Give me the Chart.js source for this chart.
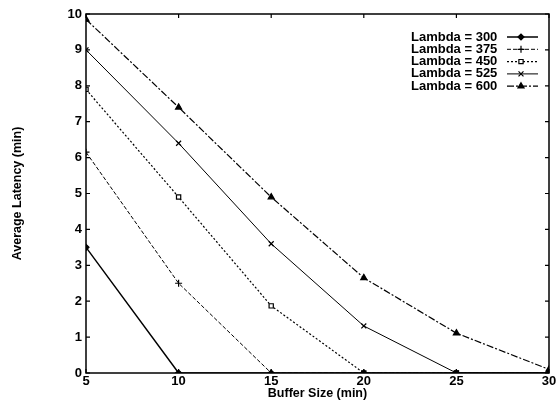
<!DOCTYPE html>
<html>
<head>
<meta charset="utf-8">
<script src="https://cdn.jsdelivr.net/npm/chart.js@4"></script>
<style>
  html,body{margin:0;padding:0;background:#fff}
  #wrap{width:558px;height:411px;position:relative}
</style>
</head>
<body>
<div id="wrap"><canvas id="latencyChart"></canvas></div>
<script>
// values
const bufferSizes = [5, 10, 15, 20, 25, 30];
const lambdaLabels = ['Lambda = 300', 'Lambda = 375', 'Lambda = 450', 'Lambda = 525', 'Lambda = 600'];
const lambda300 = [3.5, 0, 0, 0, 0, 0];
const lambda375 = [6.15, 2.5, 0, 0, 0, 0];
const lambda450 = [7.9, 4.9, 1.87, 0, 0, 0];
const lambda525 = [9.0, 6.4, 3.6, 1.31, 0, 0];
const lambda600 = [9.85, 7.4, 4.9, 2.65, 1.11, 0.1];
const yTicks = [0, 1, 2, 3, 4, 5, 6, 7, 8, 9, 10];

const FONT = '"Liberation Sans", Arial, Helvetica, sans-serif';
const series = [lambda300, lambda375, lambda450, lambda525, lambda600];
const styles = [
  {pointStyle:'rectRot', dash:[], width:1.5, radius:3, fill:'#000'},
  {pointStyle:'cross', dash:[4,2], width:1, radius:3.5, fill:'#000'},
  {pointStyle:'rect', dash:[2,2], width:1.2, radius:3, fill:'#fff'},
  {pointStyle:'crossRot', dash:[], width:1, radius:3.5, fill:'#000'},
  {pointStyle:'triangle', dash:[7,2,2,2], width:1.2, radius:3.5, fill:'#000'}
];

const datasets = series.map((vals,i)=>({
  label: lambdaLabels[i],
  data: bufferSizes.map((x,j)=>({x, y: vals[j]})),
  borderColor:'#000',
  borderWidth: styles[i].width,
  borderDash: styles[i].dash,
  pointStyle: styles[i].pointStyle,
  pointRadius: styles[i].radius,
  pointBackgroundColor: styles[i].fill,
  pointBorderColor:'#000',
  pointBorderWidth:1.2,
  tension:0
}));

// frame with inward tick marks on all four sides
const framePlugin = {
  id:'frame',
  afterDraw(chart){
    const {ctx, chartArea:a, scales:{x, y}} = chart;
    ctx.save();
    ctx.strokeStyle = '#000';
    ctx.lineWidth = 1.5;
    ctx.strokeRect(a.left, a.top, a.right - a.left, a.bottom - a.top);
    ctx.lineWidth = 1.2;
    ctx.beginPath();
    bufferSizes.forEach(v=>{
      const px = x.getPixelForValue(v);
      ctx.moveTo(px, a.bottom); ctx.lineTo(px, a.bottom - 4);
      ctx.moveTo(px, a.top); ctx.lineTo(px, a.top + 4);
    });
    yTicks.forEach(v=>{
      const py = y.getPixelForValue(v);
      ctx.moveTo(a.left, py); ctx.lineTo(a.left + 4, py);
      ctx.moveTo(a.right, py); ctx.lineTo(a.right - 4, py);
    });
    ctx.stroke();
    ctx.restore();
  }
};

// legend: text first, sample line after it
const legendPlugin = {
  id:'sideLegend',
  afterDraw(chart){
    const ctx = chart.ctx;
    ctx.save();
    ctx.font = 'bold 13px ' + FONT;
    ctx.textBaseline = 'middle';
    ctx.textAlign = 'left';
    chart.data.datasets.forEach((ds,i)=>{
      const yy = 37 + i*12.3;
      ctx.fillStyle = '#000';
      ctx.fillText(ds.label, 411, yy);
      ctx.strokeStyle = '#000';
      ctx.lineWidth = ds.borderWidth;
      ctx.setLineDash(ds.borderDash);
      ctx.beginPath();
      ctx.moveTo(507, yy); ctx.lineTo(538, yy);
      ctx.stroke();
      ctx.setLineDash([]);
      ctx.fillStyle = ds.pointBackgroundColor;
      ctx.lineWidth = 1.2;
      Chart.helpers.drawPoint(ctx, {pointStyle: ds.pointStyle, radius: ds.pointRadius, rotation:0, borderWidth:1.2}, 521, yy);
    });
    ctx.restore();
  }
};

new Chart(document.getElementById('latencyChart'), {
  type:'line',
  data:{datasets},
  options:{
    responsive:true,
    maintainAspectRatio:false,
    animation:false,
    layout:{padding:{left:0, right:9, top:14, bottom:0}},
    plugins:{legend:{display:false}, tooltip:{enabled:false}},
    scales:{
      x:{
        type:'linear', min:5, max:30,
        grid:{display:false, drawTicks:false}, border:{display:false},
        ticks:{stepSize:5, padding:1, color:'#000', maxRotation:0, font:{family:FONT, size:13, weight:'bold'}},
        title:{display:true, text:'Buffer Size (min)', color:'#000', padding:{top:0, bottom:10}, font:{family:FONT, size:12.5, weight:'bold'}},
        afterFit(s){ s.height = 38; }
      },
      y:{
        type:'linear', min:0, max:10,
        grid:{display:false, drawTicks:false}, border:{display:false},
        ticks:{stepSize:1, padding:4, color:'#000', font:{family:FONT, size:13, weight:'bold'}},
        title:{display:true, text:'Average Latency (min)', color:'#000', padding:{top:10, bottom:0}, font:{family:FONT, size:12.5, weight:'bold'}},
        afterFit(s){ s.width = 86; }
      }
    }
  },
  plugins:[framePlugin, legendPlugin]
});
</script>
</body>
</html>
